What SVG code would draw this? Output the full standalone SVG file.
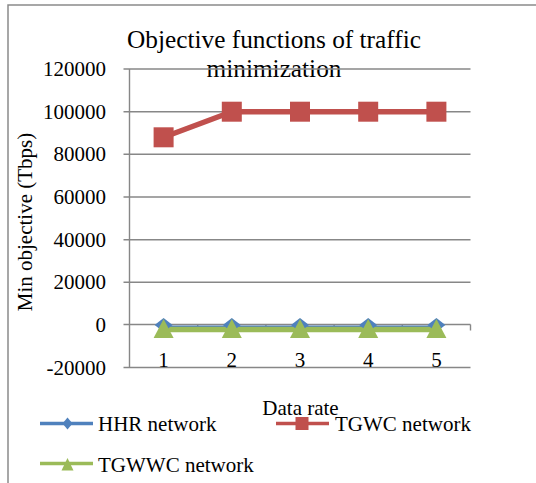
<svg xmlns="http://www.w3.org/2000/svg" width="536" height="483" viewBox="0 0 536 483">
<style>
text{font-family:"Liberation Serif","Times New Roman",serif;fill:#000;}
.lbl{font-size:21px;}
.yl{font-size:21px;text-anchor:end;}
.xl{font-size:21px;text-anchor:middle;}
.title{font-size:25.3px;text-anchor:middle;}
.grid{stroke:#878787;stroke-width:1.4;fill:none;}
.red{stroke:#C0504D;stroke-width:5.5;fill:none;stroke-linejoin:round;}
.blue{stroke:#4F81BD;stroke-width:4;fill:none;}
.green{stroke:#9BBB59;stroke-width:5.5;fill:none;}
.rsq{fill:#C0504D;}
.bdm{fill:#4F81BD;}
.gtr{fill:#9BBB59;}
</style>
<rect x="0" y="0" width="536" height="483" fill="#fff"/>
<g id="frame">
<polyline points="8,483 8,5 536,5" fill="none" stroke="#8a8a8a" stroke-width="1.5"/>
</g>
<g id="title">
<text class="title" x="274" y="47.5">Objective functions of traffic</text>
<text class="title" x="274" y="77">minimization</text>
</g>
<g id="axes">
<g class="grid">
<line x1="123.5" y1="69" x2="470.5" y2="69"/>
<line x1="123.5" y1="111.7" x2="470.5" y2="111.7"/>
<line x1="123.5" y1="154.3" x2="470.5" y2="154.3"/>
<line x1="123.5" y1="197" x2="470.5" y2="197"/>
<line x1="123.5" y1="239.7" x2="470.5" y2="239.7"/>
<line x1="123.5" y1="282.3" x2="470.5" y2="282.3"/>
<line x1="123.5" y1="324.5" x2="470.5" y2="324.5"/>
<line x1="123.5" y1="367.5" x2="470.5" y2="367.5"/>
<line x1="129.5" y1="69" x2="129.5" y2="367.5"/>
<line x1="197.7" y1="324.5" x2="197.7" y2="330.5"/>
<line x1="265.9" y1="324.5" x2="265.9" y2="330.5"/>
<line x1="334.1" y1="324.5" x2="334.1" y2="330.5"/>
<line x1="402.3" y1="324.5" x2="402.3" y2="330.5"/>
<line x1="470.5" y1="324.5" x2="470.5" y2="330.5"/>
</g>
<text class="yl" x="106" y="76">120000</text>
<text class="yl" x="106" y="118.5">100000</text>
<text class="yl" x="106" y="161">80000</text>
<text class="yl" x="106" y="204">60000</text>
<text class="yl" x="106" y="246.5">40000</text>
<text class="yl" x="106" y="289">20000</text>
<text class="yl" x="106" y="331.5">0</text>
<text class="yl" x="106" y="374.5">-20000</text>
<text class="xl" x="163.6" y="367">1</text>
<text class="xl" x="231.8" y="367">2</text>
<text class="xl" x="300" y="367">3</text>
<text class="xl" x="368.2" y="367">4</text>
<text class="xl" x="436.4" y="367">5</text>
<text class="xl" x="300.5" y="415">Data rate</text>
<text class="lbl" transform="translate(32,222) rotate(-90)" text-anchor="middle">Min objective (Tbps)</text>
</g>
<g id="connectors">
<polyline class="red" points="163.6,137.3 231.8,111.7 300,111.7 368.2,111.7 436.4,111.7"/>
<polyline class="blue" points="163.6,327.5 436.4,327.5"/>
<polyline class="green" points="163.6,329.5 436.4,329.5"/>
</g>
<g id="series-tgwc">
<rect class="rsq" x="153.6" y="127.3" width="20" height="20"/>
<rect class="rsq" x="221.8" y="101.7" width="20" height="20"/>
<rect class="rsq" x="290" y="101.7" width="20" height="20"/>
<rect class="rsq" x="358.2" y="101.7" width="20" height="20"/>
<rect class="rsq" x="426.4" y="101.7" width="20" height="20"/>
</g>
<g id="series-hhr">
<polygon class="bdm" points="163.6,318 172.6,325 163.6,332 154.6,325"/>
<polygon class="bdm" points="231.8,318 240.8,325 231.8,332 222.8,325"/>
<polygon class="bdm" points="300,318 309,325 300,332 291,325"/>
<polygon class="bdm" points="368.2,318 377.2,325 368.2,332 359.2,325"/>
<polygon class="bdm" points="436.4,318 445.4,325 436.4,332 427.4,325"/>
</g>
<g id="series-tgwwc">
<polygon class="gtr" points="163.6,319 173.6,338 153.6,338"/>
<polygon class="gtr" points="231.8,319 241.8,338 221.8,338"/>
<polygon class="gtr" points="300,319 310,338 290,338"/>
<polygon class="gtr" points="368.2,319 378.2,338 358.2,338"/>
<polygon class="gtr" points="436.4,319 446.4,338 426.4,338"/>
</g>
<g id="legend-hhr">
<line x1="40" y1="423.5" x2="93" y2="423.5" stroke="#4F81BD" stroke-width="3.5"/>
<polygon class="bdm" points="67.5,417.5 72.5,423.5 67.5,429.5 62.5,423.5"/>
<text class="lbl" x="98" y="431">HHR network</text>
</g>
<g id="legend-tgwc">
<line x1="276" y1="423.5" x2="329" y2="423.5" stroke="#C0504D" stroke-width="3.5"/>
<rect class="rsq" x="295.5" y="417" width="13" height="13"/>
<text class="lbl" x="335" y="431">TGWC network</text>
</g>
<g id="legend-tgwwc">
<line x1="40" y1="463.5" x2="93" y2="463.5" stroke="#9BBB59" stroke-width="3.5"/>
<polygon class="gtr" points="67.5,458 73.5,470.5 61.5,470.5"/>
<text class="lbl" x="98" y="471.5">TGWWC network</text>
</g>
</svg>
